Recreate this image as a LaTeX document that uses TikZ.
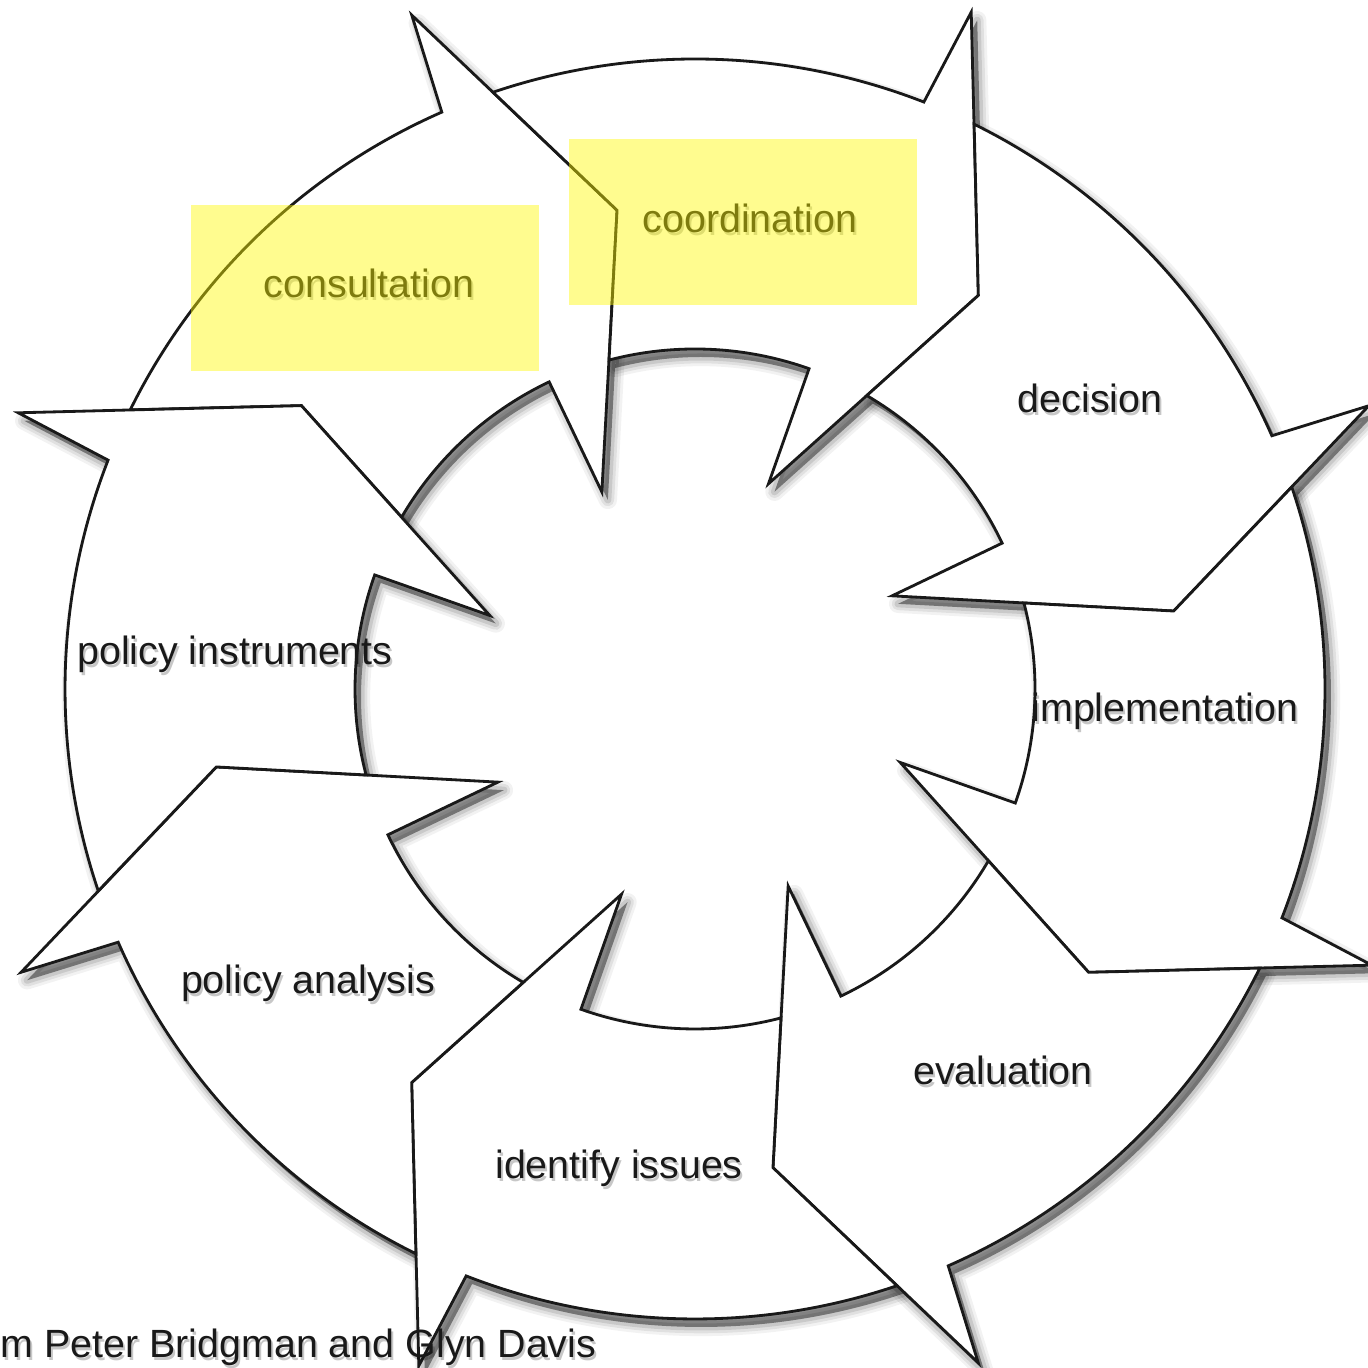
\documentclass[tikz,border=0pt]{standalone}
\usepackage{fontspec}
\setmainfont{Liberation Sans}
\pgfdeclarelayer{paper}
\pgfdeclarelayer{shade}
\pgfsetlayers{paper,shade,main}
\begin{document}
\begin{tikzpicture}[x=0.01cm,y=0.01cm,
  % one curved arrow of the ring, turned clockwise by #1 degrees
  arrowshape/.style={insert path={
    ({153.7-#1}:630) arc[start angle={153.7-#1}, end angle={113.7-#1}, radius=630]
    -- ({112.8-#1}:731) -- ({99.25-#1}:485) -- ({115.3-#1}:218) -- ({115.4-#1}:340)
    arc[start angle={115.4-#1}, end angle={149.65-#1}, radius=340]
    -- ({144.25-#1}:485) -- cycle}},
  arrowbody/.style={draw=black!90, line width=0.8pt, fill=white, line join=miter},
  softedge/.style={black, line join=round, shift={(6,-8)}},
  lbl/.style={font=\fontsize{11.2pt}{13pt}\selectfont, inner sep=0pt, anchor=base, text=black!90},
  lblshade/.style={lbl, text=black, opacity=0.22},
  hilite/.style={fill={rgb,255:red,255;green,250;blue,0}, fill opacity=0.44},
]
\useasboundingbox (0,0) rectangle (1368,1368);
\begin{pgfonlayer}{paper}
  \fill[white] (0,0) rectangle (1368,1368);
\end{pgfonlayer}

% ring of eight arrows with soft drop shadows
\begin{scope}[shift={(695,679)}]
  \foreach \k in {0,...,7}{
    \pgfmathsetmacro\rot{45*\k}
    \begin{pgfonlayer}{shade}
      \fill[softedge, opacity=0.42, arrowshape=\rot];
      \draw[softedge, opacity=0.05, line width=5.2pt, arrowshape=\rot];
      \draw[softedge, opacity=0.07, line width=3.6pt, arrowshape=\rot];
      \draw[softedge, opacity=0.10, line width=2.0pt, arrowshape=\rot];
    \end{pgfonlayer}
    \path[arrowbody, arrowshape=\rot];
  }
\end{scope}

% stage labels, each with a faint shadow
\newcommand\stagelabel[3]{%
  \node[lblshade] at ([shift={(2,-3)}]#2) {#3};
  \node[lbl] (#1) at (#2) {#3};}
\stagelabel{consult}{369,1070}{consultation}
\stagelabel{coord}{750,1135}{coordination}
\stagelabel{decide}{1090,955}{decision}
\stagelabel{implement}{1165,646}{implementation}
\stagelabel{evaluate}{1003,283}{evaluation}
\stagelabel{identify}{619,189}{identify issues}
\stagelabel{analysis}{308,374}{policy analysis}
\stagelabel{instruments}{235,703}{policy instruments}

% source line along the bottom edge
\node[lblshade, anchor=base west] at (2,8) {m Peter Bridgman and Glyn Davis};
\node[lbl, anchor=base west] (source) at (0,11) {m Peter Bridgman and Glyn Davis};

% translucent highlights over two stages
\fill[hilite] (191,997) rectangle (539,1163);
\fill[hilite] (569,1063) rectangle (917,1229);
\end{tikzpicture}
\end{document}
